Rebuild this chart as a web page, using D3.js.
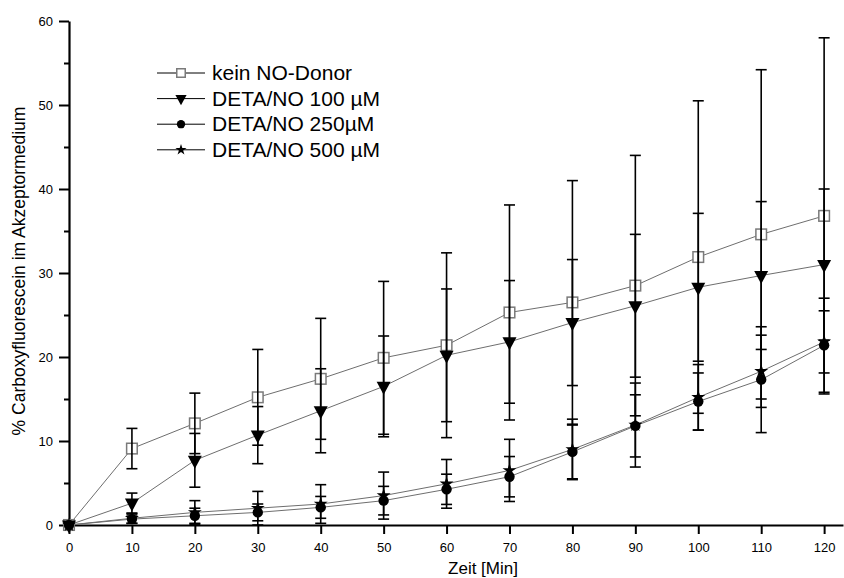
<!DOCTYPE html>
<html>
<head>
<meta charset="utf-8">
<script src="https://cdn.jsdelivr.net/npm/d3@7"></script>
<style>
body { margin: 0; background: #fff; }
text { font-family: "Liberation Sans", Arial, sans-serif; fill: #000; }
</style>
</head>
<body>
<div id="chart"></div>
<script>
// Zeitpunkte [Min]
var times = [0, 10, 20, 30, 40, 50, 60, 70, 80, 90, 100, 110, 120];

var keinMean   = [0, 9.1, 12.1, 15.2, 17.4, 19.9, 21.4, 25.3, 26.5, 28.5, 31.9, 34.6, 36.8];
var keinErr    = [0, 2.4, 3.6, 5.7, 7.2, 9.1, 11.0, 12.8, 14.5, 15.5, 18.6, 19.6, 21.2];
var deta100Mean = [0, 2.6, 7.7, 10.7, 13.6, 16.5, 20.2, 21.8, 24.1, 26.1, 28.3, 29.7, 31.0];
var deta100Err  = [0, 1.2, 3.2, 3.4, 5.0, 6.0, 7.9, 7.3, 7.5, 8.5, 8.8, 8.8, 9.0];
var deta250Mean = [0, 0.7, 1.1, 1.5, 2.1, 2.9, 4.25, 5.75, 8.7, 11.8, 14.7, 17.3, 21.4];
var deta250Err  = [0, 0.5, 0.9, 1.0, 1.3, 1.7, 1.8, 2.4, 3.2, 3.7, 3.4, 6.3, 5.6];
var deta500Mean = [0, 0.8, 1.5, 2.0, 2.5, 3.5, 4.9, 6.5, 9.0, 11.9, 15.2, 18.3, 21.8];
var deta500Err  = [0, 0.6, 1.4, 2.0, 2.3, 2.8, 2.9, 3.7, 3.6, 5.0, 3.9, 4.3, 3.7];

var seriesNames = ["kein NO-Donor", "DETA/NO 100 \u00b5M", "DETA/NO 250\u00b5M", "DETA/NO 500 \u00b5M"];
var yMajorTicks = [0, 10, 20, 30, 40, 50, 60];
var yMinorTicks = [5, 15, 25, 35, 45, 55];

var svgWidth = 844;
var svgHeight = 578;
var margin = {top: 21, right: 1, bottom: 53, left: 69};
var width = svgWidth - margin.left - margin.right;
var height = svgHeight - margin.top - margin.bottom;

var svg = d3.select("#chart").append("svg")
  .attr("width", svgWidth)
  .attr("height", svgHeight);

var chartGroup = svg.append("g")
  .attr("transform", `translate(${margin.left}, ${margin.top})`);

var x = d3.scaleLinear().domain([0, 123]).range([0, width]);
var y = d3.scaleLinear().domain([0, 60]).range([height, 0]);

// Achsen
var yMinor = chartGroup.append("g")
  .call(d3.axisLeft(y).tickValues(yMinorTicks).tickSize(5).tickSizeOuter(0).tickFormat(""));
yMinor.select(".domain").remove();

var yAxis = chartGroup.append("g")
  .call(d3.axisLeft(y).tickValues(yMajorTicks).tickSize(10).tickSizeOuter(0).tickPadding(6));

var xAxis = chartGroup.append("g")
  .attr("transform", `translate(0, ${height})`)
  .call(d3.axisBottom(x).tickValues(times).tickSize(9).tickSizeOuter(0).tickPadding(8.5));

chartGroup.selectAll(".domain").attr("stroke-width", 2.2);
chartGroup.selectAll(".tick line").attr("stroke-width", 2);
chartGroup.selectAll(".tick text").attr("font-size", 13).attr("font-family", '"Liberation Sans", Arial, sans-serif');

// Serien
var series = [
  {name: seriesNames[0], mean: keinMean, err: keinErr, symbol: "square"},
  {name: seriesNames[1], mean: deta100Mean, err: deta100Err, symbol: "triangle"},
  {name: seriesNames[2], mean: deta250Mean, err: deta250Err, symbol: "circle"},
  {name: seriesNames[3], mean: deta500Mean, err: deta500Err, symbol: "star"}
];

var line = d3.line()
  .x(d => x(d.t))
  .y(d => y(d.v));

series.forEach(function(s) {
  s.points = times.map((t, i) => ({t: t, v: s.mean[i], e: s.err[i]}));
  chartGroup.append("path")
    .datum(s.points)
    .attr("d", line)
    .attr("fill", "none")
    .attr("stroke", "#6e6e6e")
    .attr("stroke-width", 1);
});

function drawMarker(g, type, scale) {
  if (type == "square") {
    var h = 5.3 * scale;
    g.append("rect").attr("x", -h).attr("y", -h).attr("width", 2 * h).attr("height", 2 * h)
      .attr("fill", "#fff").attr("stroke", "#7a7a7a").attr("stroke-width", 1.5);
  } else if (type == "triangle") {
    var w = 7 * scale, hh = 6.5 * scale;
    g.append("path").attr("d", `M${-w},${-hh * 0.7}L${w},${-hh * 0.7}L0,${hh * 1.3}Z`).attr("fill", "#000");
  } else if (type == "circle") {
    g.append("circle").attr("r", 5.2 * scale).attr("fill", "#000");
  } else {
    g.append("path").attr("d", d3.symbol(d3.symbolStar, 60 * scale * scale)()).attr("fill", "#000");
  }
}

series.forEach(function(s) {
  s.points.forEach(function(p) {
    var g = chartGroup.append("g").attr("transform", `translate(${x(p.t)}, ${y(p.v)})`);
    drawMarker(g, s.symbol, 1);
  });
});

// Fehlerbalken
series.forEach(function(s) {
  var eg = chartGroup.append("g").attr("stroke", "#000").attr("stroke-width", 1.6);
  s.points.filter(p => p.e > 0).forEach(function(p) {
    var cx = x(p.t);
    eg.append("line").attr("x1", cx).attr("x2", cx).attr("y1", y(p.v - p.e)).attr("y2", y(p.v + p.e));
    [p.v - p.e, p.v + p.e].forEach(function(v) {
      eg.append("line").attr("x1", cx - 5.5).attr("x2", cx + 5.5).attr("y1", y(v)).attr("y2", y(v));
    });
  });
});

// Achsentitel
svg.append("text")
  .attr("x", 483)
  .attr("y", 574)
  .attr("text-anchor", "middle")
  .attr("font-size", 17)
  .text("Zeit [Min]");

svg.append("text")
  .attr("transform", "translate(25, 271) rotate(-90)")
  .attr("text-anchor", "middle")
  .attr("font-size", 17.5)
  .text("% Carboxyfluorescein im Akzeptormedium");

// Legende
var legend = svg.append("g").attr("transform", "translate(157, 73)");
series.forEach(function(s, i) {
  var row = legend.append("g").attr("transform", `translate(0, ${i * 25.6})`);
  row.append("line").attr("x1", 0).attr("x2", 48).attr("y1", 0).attr("y2", 0)
    .attr("stroke", "#000").attr("stroke-width", 1);
  var m = row.append("g").attr("transform", "translate(24, 0)");
  drawMarker(m, s.symbol, 0.8);
  row.append("text")
    .attr("x", 55)
    .attr("y", 7)
    .attr("font-size", 21)
    .text(s.name);
});
</script>
</body>
</html>
